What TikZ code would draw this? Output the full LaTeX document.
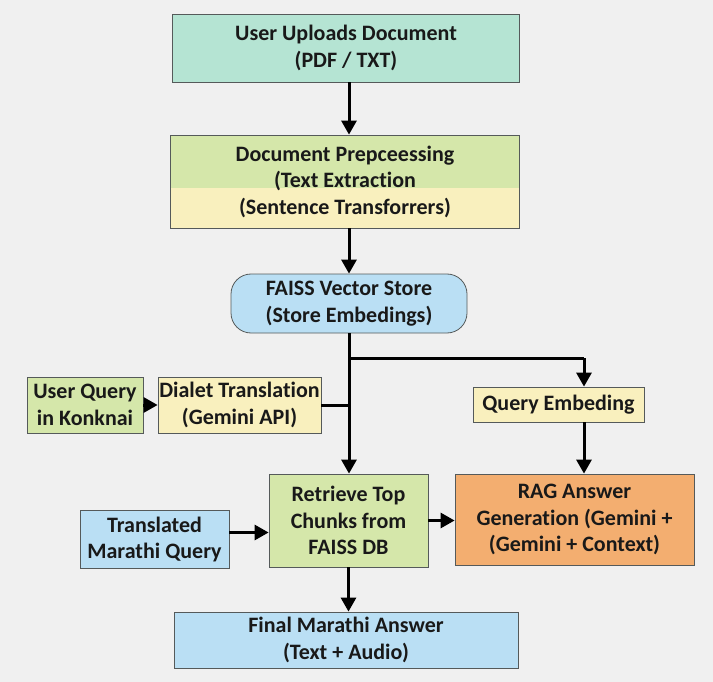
\documentclass[tikz,border=0pt]{standalone}
\usepackage{fontspec}
\setmainfont{Carlito}[Ligatures=NoCommon]
\usetikzlibrary{arrows.meta}
\definecolor{bgcol}{RGB}{240,240,240}
\definecolor{boxline}{RGB}{85,90,90}
\definecolor{textcol}{RGB}{25,25,25}
\definecolor{mint}{RGB}{181,228,211}
\definecolor{leaf}{RGB}{213,231,170}
\definecolor{cream}{RGB}{249,240,190}
\definecolor{sky}{RGB}{186,223,244}
\definecolor{apricot}{RGB}{243,174,112}

\begin{document}
\begin{tikzpicture}
[
x=1pt, y=-1pt,
box/.style={draw=boxline, line width=0.8pt, align=center, inner sep=0pt,
  text=textcol, font=\bfseries\fontsize{22}{26.5}\selectfont},
flow/.style={line width=3pt, -{Triangle[length=14pt,width=15pt]}},
link/.style={line width=3pt}
]

\fill[bgcol] (0,0) rectangle (713,682);

\node[box, fill=mint, minimum width=347pt, minimum height=68pt] (upload) at (346,48)
  {User Uploads Document\\(PDF / TXT)};
\node[box, fill=leaf, minimum width=349pt, minimum height=93pt,
  path picture={\fill[cream] (path picture bounding box.south west)
    rectangle ([yshift=-53pt]path picture bounding box.north east);}] (prep) at (345,181.5)
  {Document Prepceessing\\(Text Extraction\\(Sentence Transforrers)};
\node[box, fill=sky, rounded corners=20pt, minimum width=236pt, minimum height=59pt] (faiss) at (349,303.5)
  {FAISS Vector Store\\(Store Embedings)};
\node[box, fill=leaf, minimum width=116pt, minimum height=56pt] (konk) at (85,405)
  {User Query\\in Konknai};
\node[box, fill=cream, minimum width=163pt, minimum height=56pt] (dialet) at (239.5,405)
  {Dialet Translation\\(Gemini API)};
\node[box, fill=cream, minimum width=171pt, minimum height=35pt] (qemb) at (558.5,404.5)
  {Query Embeding};
\node[box, fill=leaf, minimum width=159pt, minimum height=93pt] (retr) at (348.5,520.5)
  {Retrieve Top\\Chunks from\\FAISS DB};
\node[box, fill=sky, minimum width=149pt, minimum height=58pt] (marathi) at (154.5,539.5)
  {Translated\\Marathi Query};
\node[box, fill=apricot, minimum width=239pt, minimum height=91pt] (rag) at (574.5,519.5)
  {RAG Answer\\Generation (Gemini +\\(Gemini + Context)};
\node[box, fill=sky, minimum width=344pt, minimum height=56pt] (final) at (346,640)
  {Final Marathi Answer\\(Text + Audio)};

\coordinate (tap) at (584,358);

\draw[flow] (upload.south -| faiss) -- (prep.north -| faiss);
\draw[flow] (prep.south -| faiss) -- (faiss.north);
\draw[flow] (faiss.south) -- (faiss.south |- retr.north);
\draw[link] (faiss.south |- tap) -- (tap);
\draw[flow] (tap) -- (tap |- qemb.north);
\draw[flow] (tap |- qemb.south) -- (tap |- rag.north);
\draw[flow] (konk.east) -- (dialet.west);
\draw[link] (dialet.east) -- (dialet.east -| faiss.south);
\draw[flow] ([yshift=7pt]marathi.east) -- ([yshift=7pt]marathi.east -| retr.west);
\draw[flow] (retr.east) -- (retr.east -| rag.west);
\draw[flow] (retr.south) -- (retr.south |- final.north);
\end{tikzpicture}
\end{document}
